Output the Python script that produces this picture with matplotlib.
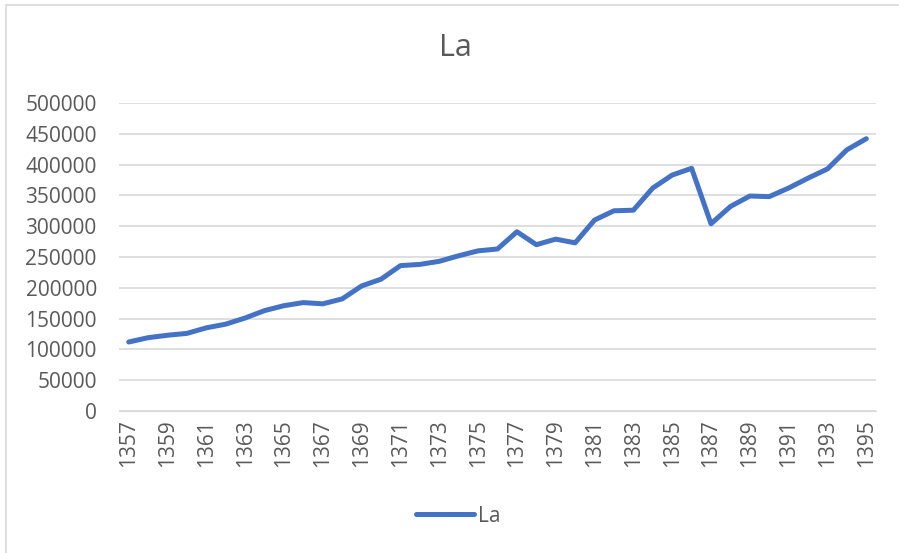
import matplotlib.pyplot as plt
from matplotlib.patches import Rectangle

years = list(range(1357, 1396))
la = [112000, 119000, 123000, 126000, 135000, 141000, 151000, 163000, 171000, 176000,
      174000, 182000, 203000, 214000, 236000, 238000, 243000, 252000, 260000, 263000,
      291000, 270000, 279000, 273000, 310000, 325000, 326000, 362000, 383000, 394000,
      304000, 332000, 349000, 348000, 362000, 378000, 393000, 424000, 442000]
tick_years = years[::2]

plt.rcParams['font.family'] = ['Open Sans', 'DejaVu Sans']
text_color = '#595959'

fig = plt.figure(figsize=(8.99, 5.53), dpi=100)
ax = fig.add_axes([119 / 899, 1 - 411 / 553, (876 - 119) / 899, (411 - 103) / 553])

# chart border (only top and left visible in the crop)
fig.patches.append(Rectangle((6 / 899, -0.1), 1.2, 1 - 5 / 553 + 0.1,
                             transform=fig.transFigure, fill=False,
                             edgecolor='#D9D9D9', linewidth=1.2))

line, = ax.plot(years, la, color='#4472C4', linewidth=3.6, label='La',
                solid_capstyle='round', solid_joinstyle='round')

ax.set_xlim(1356.5, 1395.5)
ax.set_ylim(0, 500000)
ax.set_yticks(range(0, 500001, 50000))
ax.set_xticks(tick_years)
ax.set_xticklabels([str(y) for y in tick_years], rotation=90)
ax.yaxis.grid(True, color='#D9D9D9', linewidth=1.2)
ax.set_axisbelow(True)
for s in ax.spines.values():
    s.set_visible(False)
ax.spines['bottom'].set_visible(True)
ax.spines['bottom'].set_color('#D9D9D9')
ax.tick_params(axis='both', length=0, labelsize=15, colors=text_color)
ax.tick_params(axis='y', pad=16)
ax.tick_params(axis='x', pad=6)

fig.text(455 / 899, 1 - 48 / 553, 'La', ha='center', va='center',
         fontsize=22, color=text_color)

fig.legend(handles=[line], loc='center', bbox_to_anchor=(458 / 899, 1 - 516 / 553),
           frameon=False, fontsize=15, labelcolor=text_color,
           handlelength=2.8, handletextpad=0.2)

fig.savefig('out.png', dpi=100)
